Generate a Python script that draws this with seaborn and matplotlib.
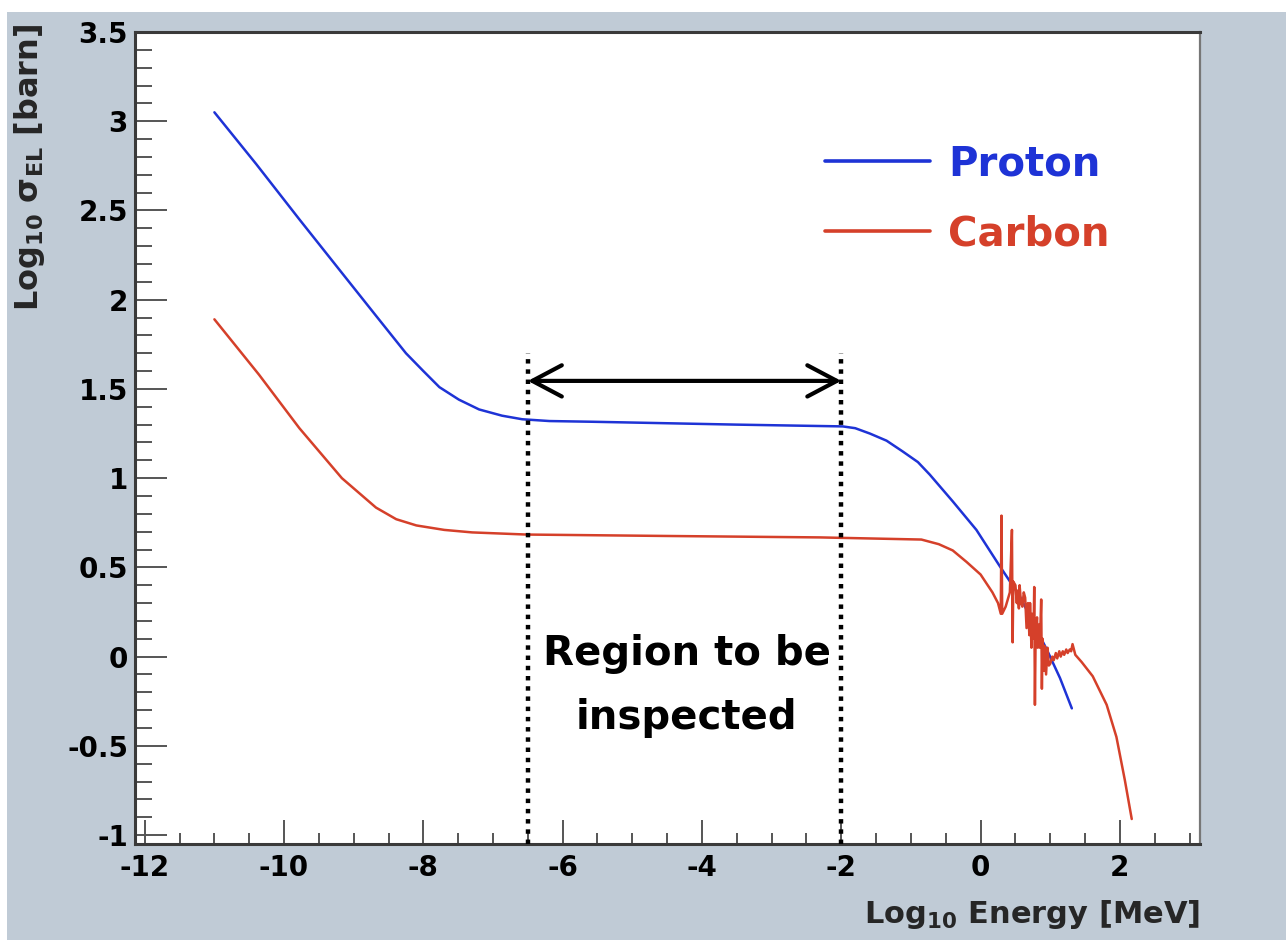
import numpy as np
import pandas as pd
import matplotlib
matplotlib.use("Agg")
import matplotlib.pyplot as plt
import seaborn as sns
from matplotlib.ticker import MultipleLocator, FuncFormatter
from matplotlib.patches import Rectangle

# ---------------- data ----------------
proton_x = [-11.0, -10.4, -9.78, -9.21, -8.68, -8.25, -8.0, -7.77, -7.49, -7.20, -6.87,
            -6.58, -6.19, -5.57, -3.51, -1.98, -1.80, -1.59, -1.35, -1.12, -0.90, -0.73,
            -0.40, -0.06, 0.27, 0.56, 0.95, 1.14, 1.31]
proton_y = [3.05, 2.76, 2.45, 2.17, 1.91, 1.70, 1.60, 1.51, 1.44, 1.385, 1.35,
            1.33, 1.32, 1.316, 1.30, 1.29, 1.28, 1.25, 1.21, 1.15, 1.09, 1.02,
            0.87, 0.71, 0.51, 0.34, 0.04, -0.12, -0.29]

carbon_x = [-11.0, -10.36, -9.78, -9.17, -8.68, -8.39, -8.10, -7.70, -7.30, -6.52, -4.5,
            -2.31, -0.85, -0.60, -0.40, -0.20, 0.0, 0.17, 0.25, 0.29, 0.30, 0.31, 0.36,
            0.42, 0.45, 0.46, 0.47, 0.50, 0.52, 0.53, 0.55, 0.56, 0.58, 0.60, 0.62, 0.64,
            0.66, 0.68, 0.70, 0.71, 0.73, 0.74, 0.76, 0.77, 0.78, 0.79, 0.81, 0.82, 0.84,
            0.85, 0.87, 0.88, 0.89, 0.91, 0.92, 0.94, 0.96, 0.98, 1.00, 1.03, 1.05, 1.08,
            1.10, 1.13, 1.15, 1.18, 1.20, 1.23, 1.25, 1.28, 1.30, 1.32, 1.36, 1.45, 1.61,
            1.81, 1.95, 2.07, 2.17]
carbon_y = [1.89, 1.58, 1.28, 1.00, 0.835, 0.77, 0.735, 0.71, 0.696, 0.684, 0.676,
            0.668, 0.656, 0.63, 0.595, 0.53, 0.46, 0.36, 0.30, 0.24, 0.79, 0.24, 0.28,
            0.36, 0.71, 0.08, 0.42, 0.40, 0.30, 0.37, 0.27, 0.40, 0.30, 0.28, 0.36, 0.33,
            0.16, 0.30, 0.12, 0.30, 0.05, 0.24, 0.10, 0.39, -0.27, 0.12, 0.22, 0.05, 0.18,
            0.05, 0.32, -0.18, 0.10, -0.08, 0.06, -0.10, 0.05, -0.05, -0.04, 0.00, -0.02,
            0.02, -0.01, 0.03, 0.00, 0.03, 0.01, 0.04, 0.02, 0.04, 0.03, 0.07, 0.01, -0.03,
            -0.11, -0.27, -0.45, -0.69, -0.91]

series_names = ["Proton", "Carbon"]
region_bounds = [-6.5, -2.0]
x_ticks = [-12, -10, -8, -6, -4, -2, 0, 2]
y_ticks = [-1, -0.5, 0, 0.5, 1, 1.5, 2, 2.5, 3, 3.5]

df = pd.concat([
    pd.DataFrame({"energy": proton_x, "xs": proton_y, "target": "Proton"}),
    pd.DataFrame({"energy": carbon_x, "xs": carbon_y, "target": "Carbon"}),
], ignore_index=True)

# ---------------- style ----------------
BG = "#c0cbd6"
BLUE = "#1e33d6"
RED = "#d5402a"

sns.set_theme(style="ticks")
plt.rcParams["font.family"] = ["DejaVu Sans"]
plt.rcParams["font.weight"] = "bold"
plt.rcParams["mathtext.default"] = "bf"

W, H = 1286, 940
fig = plt.figure(figsize=(W / 100, H / 100), dpi=100, facecolor=BG)
# thin white border at top and left, as in the reference screenshot
fig.add_artist(Rectangle((0, 1 - 12 / H), 1, 12 / H, transform=fig.transFigure,
                         facecolor="white", edgecolor="none", zorder=-5))
fig.add_artist(Rectangle((0, 0), 7 / W, 1, transform=fig.transFigure,
                         facecolor="white", edgecolor="none", zorder=-5))

ax = fig.add_axes([135 / W, 96 / H, 1065 / W, 812 / H])
ax.set_facecolor("white")

sns.lineplot(data=df, x="energy", y="xs", hue="target", hue_order=series_names,
             palette={"Proton": BLUE, "Carbon": RED}, sort=False, estimator=None,
             linewidth=1.8, ax=ax)

ax.set_xlim(-12.14, 3.15)
ax.set_ylim(-1.05, 3.5)

ax.set_xticks(x_ticks)
ax.set_yticks(y_ticks)
ax.xaxis.set_minor_locator(MultipleLocator(0.5))
ax.yaxis.set_minor_locator(MultipleLocator(0.1))
ax.yaxis.set_major_formatter(FuncFormatter(lambda v, p: f"{v:g}"))
ax.xaxis.set_major_formatter(FuncFormatter(lambda v, p: f"{v:g}"))

ax.tick_params(axis="both", which="both", direction="in", top=False, right=False,
               color="#555555", labelcolor="black", labelsize=20, width=1.4)
ax.tick_params(axis="x", which="major", length=17, pad=7)
ax.tick_params(axis="x", which="minor", length=8)
ax.tick_params(axis="y", which="major", length=23, pad=5)
ax.tick_params(axis="y", which="minor", length=12)
for lab in ax.get_xticklabels() + ax.get_yticklabels():
    lab.set_fontweight("bold")

for side, sp in ax.spines.items():
    sp.set_visible(True)
    sp.set_color("#3a3a3a")
    sp.set_linewidth(2.2)
ax.spines["right"].set_color("#777777")
ax.spines["right"].set_linewidth(1.6)

ax.set_xlabel(r"Log$_{10}$ Energy [MeV]", fontsize=22, fontweight="bold", loc="right")
ax.xaxis.set_label_coords(1.0, -0.066)
ax.set_ylabel(r"Log$_{10}$ $\sigma_{EL}$ [barn]", fontsize=23, fontweight="bold", loc="top")
ax.yaxis.set_label_coords(-0.083, 1.01)

# dotted region boundaries
for xb in region_bounds:
    ax.plot([xb, xb], [-1.05, 1.70], color="black", lw=3.2,
            linestyle=(0, (1, 1.3)), solid_capstyle="butt", dash_capstyle="butt", zorder=3)

# double-headed arrow
ax.annotate("", xy=(region_bounds[0], 1.545), xytext=(region_bounds[1], 1.545),
            arrowprops=dict(arrowstyle="<->,head_length=0.85,head_width=0.45",
                            lw=3, color="black", mutation_scale=25,
                            shrinkA=0, shrinkB=0), zorder=4)

ax.text(np.mean(region_bounds) + 0.03, -0.165, "Region to be\ninspected", ha="center",
        va="center", fontsize=29, fontweight="bold", color="black", linespacing=1.75)

# legend
sns.move_legend(ax, "upper left", bbox_to_anchor=(0.648, 0.862), title=None,
                frameon=False, labelcolor="linecolor",
                prop={"weight": "bold", "size": 29},
                handlelength=2.6, handletextpad=0.45, labelspacing=0.75,
                borderpad=0, borderaxespad=0)
leg = ax.get_legend()
for h in leg.get_lines():
    h.set_linewidth(2.6)

fig.savefig("out.png", dpi=100, facecolor=fig.get_facecolor())
